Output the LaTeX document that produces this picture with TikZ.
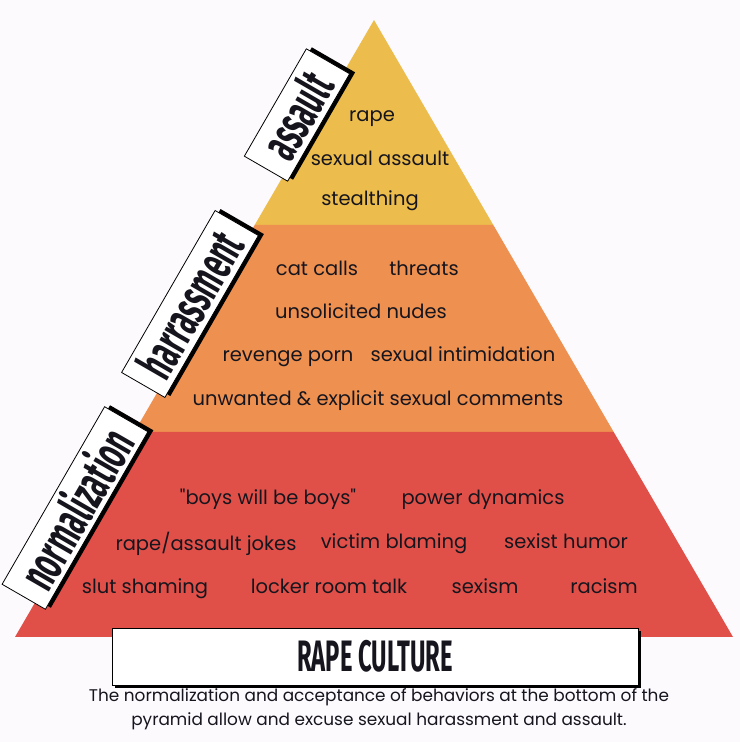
\documentclass[tikz,border=0pt]{standalone}
\usepackage{fontspec}
\setmainfont{Poppins}[Ligatures=TeXOff]
\newfontfamily\tagfont[FakeStretch=0.54]{Fira Sans}
\usetikzlibrary{positioning,calc}
\definecolor{paper}{HTML}{FCFAFD}
\definecolor{tiptop}{HTML}{ECBC4C}
\definecolor{midband}{HTML}{EE904F}
\definecolor{baseband}{HTML}{E05048}
\definecolor{ink}{HTML}{16151E}

\begin{document}
\begin{tikzpicture}[x=1pt,y=1pt,
  item/.style={font=\fontsize{19.5}{22}\selectfont,text=ink,inner sep=0pt,anchor=mid,yshift=-4.5},
  tag/.style={draw=black,fill=white,line width=0.8pt,text=ink,inner sep=0pt,
    minimum height=50,font=\tagfont\bfseries\fontsize{51}{51}\selectfont}]
\fill[paper] (0,0) rectangle (740,742);
\useasboundingbox (0,0) rectangle (740,742);

% the pyramid
\coordinate (apex) at (374,722);
\coordinate (yl) at (254.7,517);
\coordinate (yr) at (493.3,517);
\coordinate (ol) at (134.3,310);
\coordinate (or) at (613.7,310);
\coordinate (bl) at (15,105);
\coordinate (br) at (733,105);
\fill[tiptop] (apex)--(yr)--(yl)--cycle;
\fill[midband] (yl)--(yr)--(or)--(ol)--cycle;
\fill[baseband] (ol)--(or)--(br)--(bl)--cycle;

% top band
\node[item] (rape) at (372,627.5) {rape};
\node[item] (sexassault) at (380,584) {sexual assault};
\node[item] (stealth) at (370,544) {stealthing};

% middle band
\node[item] (catcalls) at (317,474) {cat calls};
\node[item] (threats) at (424,474) {threats};
\node[item] (nudes) at (361,431) {unsolicited nudes};
\node[item] (revenge) at (288,388) {revenge porn};
\node[item] (intim) at (463,388) {sexual intimidation};
\node[item] (comments) at (378,344) {unwanted \& explicit sexual comments};

% bottom band
\node[item] (boys) at (268,245) {"boys will be boys"};
\node[item] (power) at (483,245) {power dynamics};
\node[item] (jokes) at (206,199) {rape/assault jokes};
\node[item] (blaming) at (394,201) {victim blaming};
\node[item] (humor) at (566,201) {sexist humor};
\node[item] (slut) at (145,156) {slut shaming};
\node[item] (locker) at (329,156) {locker room talk};
\node[item] (sexism) at (485,156) {sexism};
\node[item] (racism) at (604,156) {racism};

% side tags
\begin{scope}[shift={(297,627)},rotate=60,transform shape]
\fill[black] (-58,-29) rectangle (66,21);
\node[tag,minimum width=124] (assault) at (0,0) {assault};
\end{scope}
\begin{scope}[shift={(190,438)},rotate=60,transform shape]
\fill[black] (-89.5,-29) rectangle (97.5,21);
\node[tag,minimum width=187] (harass) at (0,0) {harrassment};
\end{scope}
\begin{scope}[shift={(75,234)},rotate=60,transform shape]
\fill[black] (-98.5,-29) rectangle (106.5,21);
\node[tag,minimum width=205] (normal) at (0,0) {normalization};
\end{scope}

% title and caption
\fill[black] (115,54) rectangle (641,111);
\node[tag,minimum width=526,minimum height=57,
  font=\tagfont\bfseries\fontsize{44}{44}\selectfont] (title) at (375,85.5) {RAPE CULTURE};
\node[item,anchor=center,yshift=4.5,font=\fontsize{16.9}{24}\selectfont,align=center] (caption) at (379,33)
  {The normalization and acceptance of behaviors at the bottom of the\\
   pyramid allow and excuse sexual harassment and assault.};
\end{tikzpicture}
\end{document}
